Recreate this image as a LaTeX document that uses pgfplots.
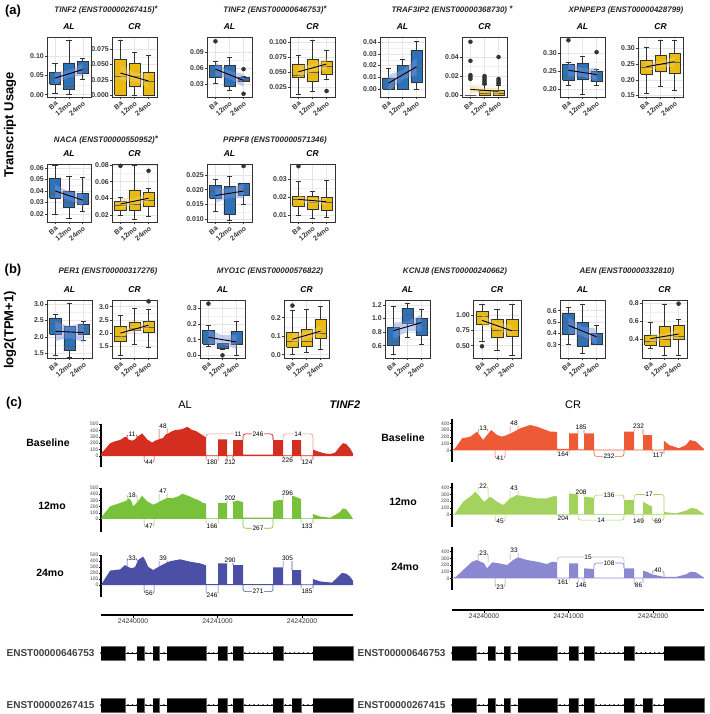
\documentclass[border=0pt]{standalone}
\usepackage{fontspec}
\setmainfont{Liberation Sans}
\usepackage{pgfplots}
\pgfplotsset{compat=1.18}
\definecolor{alblue}{HTML}{2D72B8}
\definecolor{cryel}{HTML}{E9BA12}
\definecolor{alband}{HTML}{7A96E0}
\definecolor{crband}{HTML}{F2CE6A}
\definecolor{boxc}{HTML}{333333}
\definecolor{framec}{HTML}{333333}
\definecolor{gridc}{HTML}{E6E6E6}
\definecolor{tickc}{HTML}{3A3A3A}
\definecolor{alred}{HTML}{D42E20}
\definecolor{crred}{HTML}{EE5A36}
\definecolor{algreen}{HTML}{78C13A}
\definecolor{crgreen}{HTML}{A3D35E}
\definecolor{alpurp}{HTML}{4B4FA6}
\definecolor{crpurp}{HTML}{8A88D0}
\pgfplotsset{
 bp/.style={scale only axis, anchor=north west, width=45pt, height=60pt,
  xmin=0.4, xmax=3.6, xtick={1,2,3}, xticklabels={Ba,12mo,24mo},
  scaled y ticks=false,
  x tick label style={rotate=40, anchor=north east, font=\fontsize{7}{7}\selectfont\bfseries, text=tickc, inner sep=1pt},
  y tick label style={font=\fontsize{7}{7}\selectfont\bfseries, text=tickc, inner sep=1pt},
  tick align=outside, tick pos=left, major tick length=2pt, minor tick length=0pt, tick style={color=tickc, line width=0.5pt},
  minor y tick num=1,
  axis line style={color=framec, line width=0.75pt},
  xmajorgrids, ymajorgrids, yminorgrids, grid style={color=gridc, line width=0.45pt},
  minor grid style={color=gridc!55, line width=0.3pt},
  title style={font=\fontsize{8.5}{9}\selectfont\bfseries\itshape, inner sep=1.5pt},
  /pgf/number format/assume math mode=true},
 sash/.style={scale only axis, anchor=north west, width=252pt, xmin=620, xmax=3603,
  axis x line=none, axis y line*=left, y axis line style={-, line width=1.2pt, black},
  ytick style={black, line width=0.5pt}, tick align=outside, major tick length=2pt,
  y tick label style={font=\fontsize{5}{5}\selectfont, inner sep=0.3pt, text=black!75},
  clip=false, /pgf/number format/assume math mode=true},
 gax/.style={scale only axis, anchor=north west, width=252pt, height=2pt, xmin=620, xmax=3603, ymin=0, ymax=1,
  axis y line=none, axis x line*=bottom, x axis line style={-, line width=1.4pt, black},
  xtick={1000,2000,3000}, xticklabels={24240000,24241000,24242000}, tick align=outside, major tick length=2.5pt,
  xtick style={black, line width=0.6pt}, x tick label style={font=\fontsize{6.8}{7}\selectfont, text=black!80, inner sep=1.5pt}},
 trk/.style={scale only axis, anchor=north west, width=252pt, height=80pt, xmin=620, xmax=3603, ymin=640, ymax=720,
  y dir=reverse, hide axis, clip=false},
}
% box: #1 fill colour, #2 position (1,2,3), #3 lower whisker, #4 lower quartile, #5 median, #6 upper quartile, #7 upper whisker
\newcommand{\bx}[7]{%
 \ifcase#2\or\def\xl{0.6}\def\xr{1.4}\def\capl{0.8}\def\capr{1.2}\or\def\xl{1.6}\def\xr{2.4}\def\capl{1.8}\def\capr{2.2}\or\def\xl{2.6}\def\xr{3.4}\def\capl{2.8}\def\capr{3.2}\fi
 \addplot[boxc, line width=0.65pt] coordinates {(#2,#3) (#2,#4)};
 \addplot[boxc, line width=0.65pt] coordinates {(#2,#6) (#2,#7)};
 \addplot[boxc, line width=0.65pt] coordinates {(\capl,#3) (\capr,#3)};
 \addplot[boxc, line width=0.65pt] coordinates {(\capl,#7) (\capr,#7)};
 \addplot[fill=#1, draw=boxc, line width=0.65pt] coordinates {(\xl,#4) (\xr,#4) (\xr,#6) (\xl,#6) (\xl,#4)};
 \addplot[boxc!80, line width=0.5pt] coordinates {(\xl,#5) (\xr,#5)};}
\newcommand{\bxa}[6]{\bx{alblue}{#1}{#2}{#3}{#4}{#5}{#6}}
\newcommand{\bxc}[6]{\bx{cryel}{#1}{#2}{#3}{#4}{#5}{#6}}
\newcommand{\band}[7]{\addplot[fill=#1, fill opacity=0.45, draw=none] coordinates {(1,#2) (2,#4) (3,#6) (3,#7) (2,#5) (1,#3)};}
\newcommand{\trl}[2]{\addplot[black, line width=0.9pt] coordinates {(1,#1) (3,#2)};}
\newcommand{\outl}[1]{\addplot[only marks, mark=*, mark size=2pt, color=boxc] coordinates {#1};}
\newcommand{\ju}[8]{\addplot[#1, line width=0.6pt, rounded corners=2.5pt] coordinates {(#2,#4) (#2,#6) (#3,#6) (#3,#5)};
 \node[font=\fontsize{6.5}{7}\selectfont, fill=white, inner sep=0.4pt, text=black] at (axis cs:#7,#6) {#8};}
\newcommand{\ex}[4]{\addplot[fill=black, draw=black!60, line width=0.4pt] coordinates {(#1,#3) (#2,#3) (#2,#4) (#1,#4)};}
\newcommand{\track}[4]{%
 \addplot[black, line width=0.7pt] coordinates {(620,#1) (3603,#1)};
 \addplot[black, line width=2pt, line cap=round, dash pattern=on 0pt off 4.5pt] coordinates {(620,#1) (3603,#1)};
 \ex{620}{905}{#2}{#3}\ex{1047}{1130}{#2}{#3}\ex{1237}{1308}{#2}{#3}\ex{1402}{1864}{#2}{#3}
 \ex{2006}{2112}{#2}{#3}\ex{2183}{2301}{#2}{#3}\ex{2656}{2775}{#2}{#3}\ex{3129}{3603}{#2}{#3}#4}
\tikzset{gt/.style={font=\fontsize{8}{9}\selectfont\bfseries\itshape, text=black!85},
 plab/.style={font=\fontsize{13}{14}\selectfont\bfseries},
 ylab/.style={font=\fontsize{13}{14}\selectfont\bfseries, rotate=90},
 slab/.style={font=\fontsize{10.5}{11}\selectfont\bfseries},
 tlab/.style={font=\fontsize{10}{11}\selectfont\bfseries, text=black!75, anchor=east}}
\begin{document}
\begin{tikzpicture}
\path[use as bounding box] (0,0) rectangle (709pt,-714pt);
% ---------- panel labels and titles
\node[plab] at (13pt,-11pt) {(a)};
\node[plab] at (13pt,-270pt) {(b)};
\node[plab] at (14pt,-403pt) {(c)};
\node[ylab] at (10pt,-125pt) {Transcript Usage};
\node[ylab] at (10pt,-330pt) {log2(TPM+1)};
\node[gt] at (106pt,-10pt) {TINF2 (ENST00000267415)\raisebox{1.5pt}{*}};
\node[gt] at (275pt,-10pt) {TINF2 (ENST00000646753)\raisebox{1.5pt}{*}};
\node[gt] at (452pt,-10pt) {TRAF3IP2 (ENST00000368730) \raisebox{1.5pt}{*}};
\node[gt] at (626pt,-10pt) {XPNPEP3 (ENST00000428799)};
\node[gt] at (106pt,-140pt) {NACA (ENST00000550952)\raisebox{1.5pt}{*}};
\node[gt] at (275pt,-140pt) {PRPF8 (ENST00000571346)};
\node[gt] at (108pt,-271pt) {PER1 (ENST00000317276)};
\node[gt] at (270pt,-271pt) {MYO1C (ENST00000576822)};
\node[gt] at (455pt,-271pt) {KCNJ8 (ENST00000240662)};
\node[gt] at (627pt,-271pt) {AEN (ENST00000332810)};
% ---------- row 1
\begin{axis}[bp, at={(47pt,-37pt)}, width=44pt, title={AL}, ymin=-0.006, ymax=0.149, ytick={0,0.05,0.1}, yticklabels={0.00,0.05,0.10}]
\bxa{1}{0.003}{0.028}{0.042}{0.058}{0.08}\bxa{2}{0.002}{0.015}{0.022}{0.082}{0.14}\bxa{3}{0.04}{0.055}{0.065}{0.085}{0.093}
\band{alband}{0.028}{0.058}{0.045}{0.063}{0.050}{0.080}\trl{0.043}{0.065}
\end{axis}
\begin{axis}[bp, at={(112pt,-37pt)}, title={CR}, ymin=-0.003, ymax=0.0946, ytick={0,0.025,0.05,0.075}, yticklabels={0.000,0.025,0.050,0.075}]
\bxc{1}{0}{0}{0.03}{0.058}{0.09}\bxc{2}{0}{0.014}{0.03}{0.052}{0.07}\bxc{3}{0}{0}{0.022}{0.037}{0.065}
\band{crband}{0.024}{0.048}{0.0225}{0.0365}{0.011}{0.035}\trl{0.036}{0.023}
\end{axis}
\begin{axis}[bp, at={(207pt,-37pt)}, title={AL}, ymin=0.006, ymax=0.118, ytick={0.03,0.06,0.09}, yticklabels={0.03,0.06,0.09}]
\bxa{1}{0.032}{0.042}{0.055}{0.065}{0.072}\bxa{2}{0.018}{0.025}{0.05}{0.065}{0.08}\bxa{3}{0.035}{0.035}{0.038}{0.042}{0.045}
\band{alband}{0.046}{0.070}{0.0405}{0.0545}{0.025}{0.049}\trl{0.058}{0.037}
\outl{(1,0.11) (3,0.058) (3,0.012)}
\end{axis}
\begin{axis}[bp, at={(290pt,-37pt)}, title={CR}, ymin=0.008, ymax=0.108, ytick={0.025,0.05,0.075,0.1}, yticklabels={0.025,0.050,0.075,0.100}]
\bxc{1}{0.013}{0.04}{0.045}{0.063}{0.078}\bxc{2}{0.017}{0.034}{0.05}{0.07}{0.102}\bxc{3}{0.037}{0.045}{0.06}{0.068}{0.085}
\band{crband}{0.040}{0.060}{0.0505}{0.0625}{0.053}{0.073}\trl{0.050}{0.063}
\outl{(3,0.018)}
\end{axis}
\begin{axis}[bp, at={(380pt,-37pt)}, title={AL}, ymin=-0.0068, ymax=0.0443, ytick={0,0.01,0.02,0.03,0.04}, yticklabels={0.00,0.01,0.02,0.03,0.04}]
\bxa{1}{0}{0}{0.004}{0.009}{0.018}\bxa{2}{0}{0}{0.013}{0.02}{0.025}\bxa{3}{0}{0.006}{0.018}{0.033}{0.041}
\band{alband}{-0.002}{0.012}{0.008}{0.016}{0.012}{0.026}\trl{0.005}{0.019}
\end{axis}
\begin{axis}[bp, at={(462pt,-37pt)}, title={CR}, ymin=-0.002, ymax=0.061, ytick={0,0.02,0.04}, yticklabels={0.00,0.02,0.04}]
\bxc{1}{0}{0}{0}{0}{0}\bxc{2}{0}{0}{0.002}{0.005}{0.011}\bxc{3}{0}{0}{0.002}{0.005}{0.010}
\outl{(1,0.056) (1,0.036) (1,0.021) (1,0.019) (1,0.017) (2,0.012) (2,0.014) (2,0.016) (2,0.018) (2,0.020) (3,0.012) (3,0.013) (3,0.015) (3,0.017) (3,0.040)}
\band{crband}{0.002}{0.010}{0.0025}{0.0075}{0.0}{0.008}\trl{0.006}{0.004}
\end{axis}
\begin{axis}[bp, at={(560pt,-37pt)}, title={AL}, ymin=0.178, ymax=0.344, ytick={0.2,0.25,0.3}, yticklabels={0.20,0.25,0.30}]
\bxa{1}{0.21}{0.225}{0.235}{0.268}{0.275}\bxa{2}{0.185}{0.228}{0.255}{0.27}{0.29}\bxa{3}{0.21}{0.22}{0.237}{0.25}{0.255}
\band{alband}{0.234}{0.270}{0.235}{0.257}{0.222}{0.258}\trl{0.252}{0.240}
\outl{(1,0.335) (3,0.302)}
\end{axis}
\begin{axis}[bp, at={(638pt,-37pt)}, title={CR}, ymin=0.145, ymax=0.337, ytick={0.15,0.2,0.25,0.3}, yticklabels={0.15,0.20,0.25,0.30}]
\bxc{1}{0.158}{0.218}{0.24}{0.262}{0.305}\bxc{2}{0.178}{0.228}{0.25}{0.278}{0.325}\bxc{3}{0.165}{0.22}{0.255}{0.285}{0.325}
\band{crband}{0.226}{0.258}{0.24}{0.26}{0.242}{0.274}\trl{0.242}{0.258}
\end{axis}
% ---------- row 2
\begin{axis}[bp, at={(47pt,-164pt)}, width=44pt, height=58pt, title={AL}, ymin=0.013, ymax=0.0635, ytick={0.02,0.03,0.04,0.05,0.06}, yticklabels={0.02,0.03,0.04,0.05,0.06}]
\bxa{1}{0.02}{0.034}{0.038}{0.051}{0.062}\bxa{2}{0.016}{0.026}{0.03}{0.04}{0.053}\bxa{3}{0.022}{0.028}{0.031}{0.038}{0.052}
\band{alband}{0.0345}{0.0455}{0.0325}{0.0395}{0.0265}{0.0375}\trl{0.040}{0.032}
\end{axis}
\begin{axis}[bp, at={(112pt,-164pt)}, height=58pt, title={CR}, ymin=0.0114, ymax=0.0812, ytick={0.02,0.04,0.06,0.08}, yticklabels={0.02,0.04,0.06,0.08}]
\bxc{1}{0.019}{0.025}{0.031}{0.036}{0.041}\bxc{2}{0.015}{0.026}{0.033}{0.05}{0.08}\bxc{3}{0.018}{0.03}{0.038}{0.047}{0.052}
\band{crband}{0.027}{0.039}{0.033}{0.040}{0.034}{0.046}\trl{0.033}{0.040}
\outl{(1,0.079) (3,0.073)}
\end{axis}
\begin{axis}[bp, at={(207pt,-164pt)}, height=58pt, title={AL}, ymin=0.009, ymax=0.0287, ytick={0.01,0.015,0.02,0.025}, yticklabels={0.010,0.015,0.020,0.025}]
\bxa{1}{0.0125}{0.017}{0.0195}{0.0215}{0.0235}\bxa{2}{0.0095}{0.0115}{0.02}{0.021}{0.0245}\bxa{3}{0.015}{0.018}{0.0205}{0.022}{0.022}
\band{alband}{0.0155}{0.0205}{0.01725}{0.02025}{0.017}{0.022}\trl{0.018}{0.0195}
\outl{(3,0.028)}
\end{axis}
\begin{axis}[bp, at={(290pt,-164pt)}, height=58pt, title={CR}, ymin=0.0064, ymax=0.0382, ytick={0.01,0.02,0.03}, yticklabels={0.01,0.02,0.03}]
\bxc{1}{0.01}{0.015}{0.019}{0.0205}{0.0285}\bxc{2}{0.0085}{0.0135}{0.0175}{0.0205}{0.023}\bxc{3}{0.009}{0.013}{0.017}{0.02}{0.029}
\band{crband}{0.0168}{0.0208}{0.01695}{0.01935}{0.0155}{0.0195}\trl{0.0188}{0.0175}
\outl{(1,0.037)}
\end{axis}
% ---------- row b
\begin{axis}[bp, at={(47pt,-300pt)}, height=58pt, title={AL}, ymin=1.35, ymax=3.13, ytick={1.5,2,2.5,3}, yticklabels={1.5,2.0,2.5,3.0}]
\bxa{1}{1.42}{2.08}{2.42}{2.58}{2.68}\bxa{2}{1.38}{1.58}{1.72}{2.32}{3.02}\bxa{3}{1.9}{2.08}{2.25}{2.38}{2.48}
\band{alband}{1.87}{2.47}{1.97}{2.33}{1.83}{2.43}\trl{2.17}{2.13}
\end{axis}
\begin{axis}[bp, at={(112pt,-300pt)}, height=58pt, title={CR}, ymin=1.06, ymax=3.25, ytick={1.5,2,2.5,3}, yticklabels={1.5,2.0,2.5,3.0}]
\bxc{1}{1.15}{1.68}{1.9}{2.25}{2.68}\bxc{2}{1.58}{2.1}{2.2}{2.42}{2.92}\bxc{3}{1.48}{2.02}{2.22}{2.45}{2.9}
\band{crband}{1.85}{2.15}{2.06}{2.24}{2.15}{2.45}\trl{2.0}{2.3}
\outl{(3,3.2)}
\end{axis}
\begin{axis}[bp, at={(200pt,-300pt)}, height=58pt, title={AL}, ymin=-0.017, ymax=0.353, ytick={0,0.1,0.2,0.3}, yticklabels={0.0,0.1,0.2,0.3}]
\bxa{1}{0.06}{0.07}{0.095}{0.16}{0.19}\bxa{2}{0.04}{0.045}{0.06}{0.075}{0.075}\bxa{3}{0}{0.07}{0.08}{0.155}{0.22}
\band{alband}{0.07}{0.16}{0.072}{0.128}{0.04}{0.13}\trl{0.115}{0.085}
\outl{(1,0.33) (2,0.0)}
\end{axis}
\begin{axis}[bp, at={(284pt,-300pt)}, height=58pt, title={CR}, ymin=-0.018, ymax=0.295, ytick={0,0.1,0.2}, yticklabels={0.0,0.1,0.2}]
\bxc{1}{0}{0.04}{0.075}{0.12}{0.24}\bxc{2}{0.01}{0.045}{0.075}{0.135}{0.245}\bxc{3}{0.03}{0.09}{0.115}{0.19}{0.26}
\band{crband}{0.053}{0.113}{0.087}{0.123}{0.097}{0.157}\trl{0.083}{0.127}
\outl{(1,0.265)}
\end{axis}
\begin{axis}[bp, at={(385pt,-300pt)}, height=58pt, title={AL}, ymin=0.42, ymax=1.27, ytick={0.6,0.8,1.0,1.2}, yticklabels={0.6,0.8,1.0,1.2}]
\bxa{1}{0.47}{0.6}{0.66}{0.87}{1.18}\bxa{2}{0.72}{0.93}{1.06}{1.15}{1.22}\bxa{3}{0.62}{0.75}{0.9}{1.0}{1.13}
\band{alband}{0.70}{0.94}{0.81}{0.95}{0.82}{1.06}\trl{0.82}{0.94}
\end{axis}
\begin{axis}[bp, at={(473pt,-300pt)}, height=58pt, width=48pt, title={CR}, ymin=0.30, ymax=1.24, ytick={0.5,0.75,1}, yticklabels={0.50,0.75,1.00}]
\bxc{1}{0.57}{0.85}{0.97}{1.06}{1.17}\bxc{2}{0.43}{0.63}{0.75}{0.93}{1.09}\bxc{3}{0.35}{0.65}{0.75}{0.93}{1.17}
\band{crband}{0.82}{1.00}{0.77}{0.88}{0.65}{0.83}\trl{0.91}{0.74}
\outl{(1,0.49)}
\end{axis}
\begin{axis}[bp, at={(560pt,-300pt)}, height=58pt, title={AL}, ymin=0.183, ymax=0.694, ytick={0.3,0.4,0.5,0.6}, yticklabels={0.3,0.4,0.5,0.6}]
\bxa{1}{0.3}{0.39}{0.5}{0.58}{0.63}\bxa{2}{0.22}{0.29}{0.36}{0.5}{0.66}\bxa{3}{0.3}{0.3}{0.37}{0.4}{0.47}
\band{alband}{0.40}{0.54}{0.38}{0.46}{0.30}{0.44}\trl{0.47}{0.37}
\end{axis}
\begin{axis}[bp, at={(642pt,-300pt)}, height=58pt, title={CR}, ymin=0.2, ymax=0.83, ytick={0.4,0.6,0.8}, yticklabels={0.4,0.6,0.8}]
\bxc{1}{0.3}{0.34}{0.38}{0.45}{0.59}\bxc{2}{0.23}{0.33}{0.4}{0.54}{0.78}\bxc{3}{0.23}{0.4}{0.44}{0.55}{0.62}
\band{crband}{0.36}{0.46}{0.405}{0.465}{0.41}{0.51}\trl{0.41}{0.46}
\outl{(3,0.79)}
\end{axis}
% ---------- panel c headings
\node[font=\fontsize{11}{12}\selectfont] at (185pt,-405pt) {AL};
\node[font=\fontsize{11}{12}\selectfont\bfseries\itshape] at (345pt,-405pt) {TINF2};
\node[font=\fontsize{11}{12}\selectfont] at (573pt,-405pt) {CR};
\node[slab] at (48pt,-443pt) {Baseline};
\node[slab] at (52pt,-506pt) {12mo};
\node[slab] at (50pt,-573pt) {24mo};
\node[slab] at (403pt,-438pt) {Baseline};
\node[slab] at (403pt,-502pt) {12mo};
\node[slab] at (405pt,-567pt) {24mo};
% ---------- AL sashimi
\begin{axis}[sash, at={(101pt,-424pt)}, height=43pt, ymin=-172, ymax=500, ytick={0,100,...,500}]
\addplot[fill=alred, draw=none] coordinates {(620,0) (627,50) (657,90) (728,200) (787,230) (846,250) (905,300) (929,300) (941,260) (988,240) (1024,260) (1047,300) (1083,330) (1106,354) (1142,300) (1166,260) (1201,230) (1225,208) (1260,240) (1284,250) (1319,270) (1355,280) (1379,330) (1414,350) (1450,380) (1497,406) (1532,410) (1580,420) (1615,440) (1639,455) (1662,440) (1698,406) (1733,395) (1757,380) (1793,350) (1816,330) (1852,300) (1864,300) (1864,10) (2006,10) (2006,260) (2112,260) (2112,10) (2183,10) (2183,250) (2301,250) (2301,20) (2656,20) (2656,250) (2775,250) (2775,10) (2881,10) (2881,250) (2988,250) (2988,10) (3129,10) (3129,100) (3189,70) (3271,40) (3330,30) (3390,50) (3449,150) (3484,200) (3520,190) (3567,120) (3603,40) (3603,0)};
\ju{alred}{929}{1047}{300}{300}{340}{988}{11}
\ju{alred}{1308}{1402}{270}{330}{460}{1355}{48}
\ju{alred!50}{1864}{2656}{300}{250}{345}{2242}{11}
\ju{alred}{2301}{2656}{250}{250}{345}{2479}{246}
\ju{alred!50}{2775}{3129}{250}{100}{345}{2952}{14}
\ju{alred}{1130}{1248}{0}{0}{-100}{1189}{44}
\ju{alred}{1864}{2006}{0}{0}{-100}{1935}{180}
\ju{alred}{2112}{2183}{0}{0}{-100}{2148}{212}
\ju{alred}{2775}{2881}{0}{0}{-70}{2828}{226}
\ju{alred}{2988}{3129}{0}{0}{-100}{3058}{124}
\end{axis}
\begin{axis}[sash, at={(101pt,-488pt)}, height=44pt, ymin=-210, ymax=500, ytick={0,100,...,500}]
\addplot[fill=algreen, draw=none] coordinates {(620,0) (633,43) (728,204) (846,258) (929,300) (941,338) (976,300) (1000,204) (1035,250) (1083,330) (1106,376) (1142,320) (1166,285) (1237,231) (1272,250) (1319,285) (1402,338) (1473,338) (1544,370) (1580,408) (1615,392) (1662,370) (1710,338) (1781,300) (1828,258) (1864,250) (1864,10) (2006,10) (2006,258) (2112,258) (2112,10) (2183,10) (2183,270) (2230,300) (2301,270) (2301,20) (2656,20) (2656,280) (2700,300) (2775,310) (2775,10) (2881,10) (2881,380) (2940,350) (2988,320) (2988,10) (3129,10) (3129,80) (3212,40) (3330,20) (3437,100) (3484,170) (3520,160) (3567,80) (3603,0)};
\ju{algreen}{929}{1047}{300}{250}{390}{988}{18}
\ju{algreen}{1308}{1402}{285}{338}{450}{1355}{47}
\ju{algreen}{2112}{2183}{258}{270}{330}{2148}{202}
\ju{algreen}{2775}{2881}{310}{380}{420}{2828}{296}
\ju{algreen}{1130}{1248}{0}{0}{-120}{1189}{47}
\ju{algreen}{1864}{2006}{0}{0}{-110}{1935}{166}
\ju{algreen}{2301}{2656}{0}{0}{-150}{2479}{267}
\ju{algreen}{2988}{3129}{0}{0}{-110}{3058}{133}
\end{axis}
\begin{axis}[sash, at={(101pt,-555pt)}, height=42pt, ymin=-200, ymax=500, ytick={0,100,...,500}]
\addplot[fill=alpurp, draw=none] coordinates {(620,0) (644,55) (728,240) (846,260) (905,333) (941,300) (988,278) (1024,300) (1059,417) (1118,472) (1142,420) (1177,306) (1237,250) (1319,317) (1402,378) (1450,400) (1556,428) (1674,389) (1793,361) (1852,333) (1864,330) (1864,15) (2006,15) (2006,361) (2112,361) (2112,15) (2183,15) (2183,333) (2301,333) (2301,15) (2656,15) (2656,294) (2775,294) (2775,10) (2881,10) (2881,250) (2988,250) (2988,10) (3129,10) (3129,100) (3212,60) (3354,40) (3437,150) (3472,200) (3520,190) (3567,140) (3603,70) (3603,0)};
\ju{alpurp}{929}{1047}{300}{400}{450}{988}{33}
\ju{alpurp}{1308}{1402}{317}{378}{440}{1355}{39}
\ju{alpurp}{2112}{2183}{361}{333}{420}{2148}{290}
\ju{alpurp}{2775}{2881}{294}{250}{450}{2828}{305}
\ju{alpurp}{1130}{1248}{0}{0}{-140}{1189}{56}
\ju{alpurp}{1864}{2006}{0}{0}{-170}{1935}{246}
\ju{alpurp}{2301}{2656}{0}{0}{-110}{2479}{271}
\ju{alpurp}{2988}{3129}{0}{0}{-100}{3058}{185}
\end{axis}
% ---------- CR sashimi
\begin{axis}[sash, at={(452pt,-419pt)}, height=43pt, ymin=-173, ymax=464, ytick={0,100,...,400}]
\addplot[fill=crred, draw=none] coordinates {(620,0) (657,30) (740,178) (834,200) (917,277) (988,153) (1083,300) (1154,227) (1213,203) (1272,227) (1355,277) (1426,326) (1544,375) (1627,350) (1710,311) (1781,277) (1828,277) (1864,270) (1864,20) (2006,20) (2006,250) (2112,250) (2112,15) (2183,15) (2183,250) (2301,250) (2301,10) (2656,10) (2656,277) (2775,277) (2775,10) (2881,10) (2881,227) (2988,227) (2988,10) (3129,10) (3129,143) (3189,80) (3307,30) (3390,80) (3437,153) (3508,130) (3567,60) (3603,20) (3603,0)};
\ju{crred}{929}{1047}{260}{280}{320}{988}{13}
\ju{crred}{1308}{1402}{277}{300}{400}{1355}{48}
\ju{crred}{2112}{2183}{250}{250}{340}{2148}{185}
\ju{crred}{2775}{2881}{277}{227}{350}{2828}{232}
\ju{crred}{1130}{1248}{0}{0}{-120}{1189}{41}
\ju{crred}{1864}{2006}{0}{0}{-60}{1935}{164}
\ju{crred}{2301}{2656}{0}{0}{-90}{2479}{232}
\ju{crred}{2988}{3129}{0}{0}{-80}{3058}{117}
\end{axis}
\begin{axis}[sash, at={(452pt,-483pt)}, height=44pt, ymin=-182, ymax=470, ytick={0,100,...,400}]
\addplot[fill=crgreen, draw=none] coordinates {(620,0) (657,20) (752,193) (858,291) (894,341) (905,330) (1000,193) (1071,267) (1154,193) (1225,143) (1308,242) (1390,291) (1509,267) (1627,242) (1745,242) (1828,277) (1864,270) (1864,10) (2006,10) (2006,316) (2112,300) (2112,10) (2183,10) (2183,267) (2301,250) (2301,10) (2656,10) (2656,217) (2775,217) (2775,10) (2881,10) (2881,193) (2940,150) (2988,120) (2988,10) (3129,10) (3129,40) (3271,20) (3390,60) (3449,100) (3508,90) (3567,40) (3603,10) (3603,0)};
\ju{crgreen}{929}{1047}{330}{250}{420}{988}{22}
\ju{crgreen}{1308}{1402}{242}{291}{390}{1355}{43}
\ju{crgreen}{2112}{2183}{300}{267}{340}{2148}{208}
\ju{crgreen}{2301}{2656}{250}{217}{290}{2479}{136}
\ju{crgreen}{2775}{3129}{217}{40}{300}{2952}{17}
\ju{crgreen}{1130}{1248}{0}{0}{-100}{1189}{45}
\ju{crgreen}{1864}{2006}{0}{0}{-50}{1935}{204}
\ju{crgreen}{2112}{2656}{0}{0}{-80}{2384}{14}
\ju{crgreen}{2775}{2881}{0}{0}{-100}{2828}{149}
\ju{crgreen}{2988}{3129}{0}{0}{-90}{3058}{69}
\end{axis}
\begin{axis}[sash, at={(452pt,-547pt)}, height=43pt, ymin=-176, ymax=471, ytick={0,100,...,400}]
\addplot[fill=crpurp, draw=none] coordinates {(620,0) (669,25) (752,125) (858,250) (917,275) (1000,225) (1035,150) (1095,240) (1177,225) (1272,200) (1343,275) (1402,315) (1509,275) (1627,250) (1745,215) (1804,250) (1864,240) (1864,10) (2006,10) (2006,225) (2112,225) (2112,10) (2183,10) (2183,150) (2301,140) (2301,10) (2656,10) (2656,150) (2775,150) (2775,10) (2881,10) (2881,115) (2940,90) (2988,60) (3060,40) (3129,20) (3271,20) (3390,60) (3449,100) (3508,90) (3567,40) (3603,10) (3603,0)};
\ju{crpurp}{929}{1047}{275}{240}{380}{988}{23}
\ju{crpurp}{1308}{1402}{275}{315}{420}{1355}{33}
\ju{crpurp!60}{1864}{2656}{240}{150}{320}{2230}{15}
\ju{crpurp}{2301}{2656}{140}{150}{230}{2479}{108}
\ju{crpurp}{2988}{3129}{60}{20}{115}{3058}{40}
\ju{crpurp}{1130}{1248}{0}{0}{-130}{1189}{23}
\ju{crpurp}{1864}{2006}{0}{0}{-65}{1935}{161}
\ju{crpurp}{2112}{2183}{0}{0}{-110}{2148}{146}
\ju{crpurp}{2775}{2881}{0}{0}{-100}{2828}{86}
\end{axis}
% ---------- genomic axes
\begin{axis}[gax, at={(101pt,-613pt)}]
\end{axis}
\begin{axis}[gax, at={(452pt,-608pt)}]
\end{axis}
% ---------- transcript tracks
\node[tlab] at (98pt,-653pt) {ENST00000646753};
\node[tlab] at (98pt,-705pt) {ENST00000267415};
\node[tlab] at (449pt,-653pt) {ENST00000646753};
\node[tlab] at (449pt,-705pt) {ENST00000267415};
\begin{axis}[trk, at={(101pt,-640pt)}]
\track{653}{646}{660}{}
\track{705}{698}{712}{\ex{2881}{2988}{698}{712}}
\end{axis}
\begin{axis}[trk, at={(452pt,-640pt)}]
\track{653}{646}{660}{}
\track{705}{698}{712}{\ex{2881}{2988}{698}{712}}
\end{axis}
\end{tikzpicture}
\end{document}
